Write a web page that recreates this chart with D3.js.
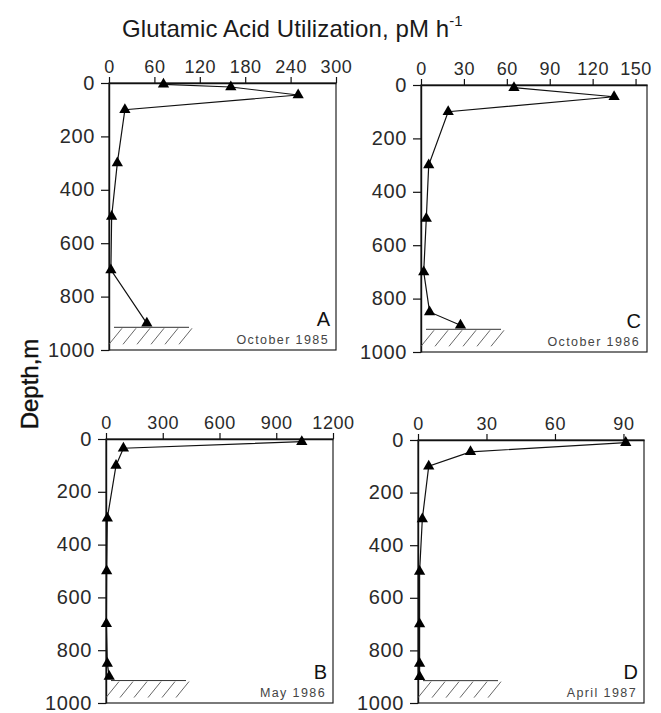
<!DOCTYPE html>
<html>
<head>
<meta charset="utf-8">
<script src="https://cdn.jsdelivr.net/npm/d3@7"></script>
<style>
  body { margin: 0; background: #fff; }
  svg { display: block; font-family: "Liberation Sans", Arial, sans-serif; }
  .tick text { fill: #2a2a2a; }
  .domain, .tick line { stroke: #111; }
</style>
</head>
<body>
<svg width="661" height="713"></svg>
<script>
// depth (m) and glutamic acid utilization (pM h-1) per station visit
const depthsA = [5, 15, 45, 100, 300, 500, 700, 900];
const valuesA = [72, 161, 250, 21, 11, 3.5, 2.5, 50];

const depthsB = [10, 35, 100, 300, 500, 700, 850, 900];
const valuesB = [1035, 92, 53, 7, 3.5, 2, 7, 17];

const depthsC = [10, 44, 100, 300, 500, 700, 850, 900];
const valuesC = [65, 135, 19, 5.4, 3.7, 1.9, 6, 27.6];

const depthsD = [10, 45, 100, 300, 500, 700, 850, 900];
const valuesD = [91, 23, 4.7, 1.9, 0.7, 0.7, 0.7, 0.7];

const xTicksA = [0, 60, 120, 180, 240, 300];
const xTicksB = [0, 300, 600, 900, 1200];
const xTicksC = [0, 30, 60, 90, 120, 150];
const xTicksD = [0, 30, 60, 90];
const depthTicks = [0, 200, 400, 600, 800, 1000];

const panelLetters = ['A', 'B', 'C', 'D'];
const panelDates = ['October 1985', 'May 1986', 'October 1986', 'April 1987'];
const xMax = [300, 1200, 158, 99];
const bottomDepth = 915;

// layout (pixel boxes of each panel)
const boxes = [
  {x0: 109, x1: 336, y0: 83, y1: 350},
  {x0: 106, x1: 333, y0: 439, y1: 703},
  {x0: 421, x1: 647, y0: 85, y1: 352},
  {x0: 418, x1: 644, y0: 440, y1: 703}
];

const panels = [
  {depths: depthsA, values: valuesA, ticks: xTicksA},
  {depths: depthsB, values: valuesB, ticks: xTicksB},
  {depths: depthsC, values: valuesC, ticks: xTicksC},
  {depths: depthsD, values: valuesD, ticks: xTicksD}
];

const svg = d3.select('svg');

// title
const title = svg.append('text')
  .attr('x', 122)
  .attr('y', 37)
  .attr('font-size', 24)
  .attr('letter-spacing', 0.1)
  .attr('fill', '#1a1a1a')
  .text('Glutamic Acid Utilization, pM h');
title.append('tspan')
  .attr('font-size', 15)
  .attr('dy', -11)
  .text('-1');

// y label
svg.append('text')
  .attr('transform', 'translate(38,384) rotate(-90)')
  .attr('text-anchor', 'middle')
  .attr('font-size', 24)
  .attr('fill', '#111')
  .attr('stroke', '#111')
  .attr('stroke-width', 0.4)
  .text('Depth,m');

panels.forEach((p, i) => {
  const b = boxes[i];
  const x = d3.scaleLinear().domain([0, xMax[i]]).range([b.x0, b.x1]);
  const y = d3.scaleLinear().domain([0, 1000]).range([b.y0, b.y1]);
  const g = svg.append('g').attr('class', 'panel');

  // frame
  g.append('rect')
    .attr('x', b.x0)
    .attr('y', b.y0)
    .attr('width', b.x1 - b.x0)
    .attr('height', b.y1 - b.y0)
    .attr('fill', 'none')
    .attr('stroke', '#222')
    .attr('stroke-width', 1.2);

  // top axis
  const xa = g.append('g')
    .attr('transform', `translate(0,${b.y0})`)
    .call(d3.axisTop(x).tickValues(p.ticks).tickFormat(d3.format('d'))
      .tickSize(6).tickSizeOuter(0).tickPadding(4));
  xa.select('.domain').attr('stroke-width', 1.4);
  xa.selectAll('.tick line').attr('stroke-width', 1.2);
  xa.selectAll('.tick text')
    .attr('font-size', 18)
    .attr('letter-spacing', 0.6)
    .attr('font-family', '"Liberation Sans", Arial, sans-serif');

  // left axis
  const ya = g.append('g')
    .attr('transform', `translate(${b.x0},0)`)
    .call(d3.axisLeft(y).tickValues(depthTicks).tickFormat(d3.format('d'))
      .tickSize(8).tickSizeOuter(0).tickPadding(6));
  ya.select('.domain').attr('stroke-width', 1.4);
  ya.selectAll('.tick line').attr('stroke-width', 1.2);
  ya.selectAll('.tick text')
    .attr('font-size', 20)
    .attr('dy', '0.3em')
    .attr('letter-spacing', 0.6)
    .attr('font-family', '"Liberation Sans", Arial, sans-serif');

  // sea floor hatch
  const yb = y(bottomDepth);
  const hx0 = b.x0 + 5, hx1 = b.x0 + 80;
  g.append('line')
    .attr('x1', hx0).attr('x2', hx1)
    .attr('y1', yb).attr('y2', yb)
    .attr('stroke', '#333').attr('stroke-width', 1);
  d3.range(6).forEach(k => {
    const hx = hx0 + 8 + k * 14;
    g.append('line')
      .attr('x1', hx).attr('y1', yb + 1)
      .attr('x2', hx - 13).attr('y2', yb + 17)
      .attr('stroke', '#555').attr('stroke-width', 0.9);
  });

  // profile
  const pts = p.depths.map((d, j) => [p.values[j], d]);
  g.append('path')
    .datum(pts)
    .attr('fill', 'none')
    .attr('stroke', '#111')
    .attr('stroke-width', 1.2)
    .attr('d', d3.line().x(d => x(d[0])).y(d => y(d[1])));

  g.selectAll('path.mk')
    .data(pts)
    .enter()
    .append('path')
    .attr('class', 'mk')
    .attr('transform', d => `translate(${x(d[0])},${y(d[1])})`)
    .attr('d', d3.symbol().type(d3.symbolTriangle).size(55))
    .attr('fill', '#000');

  // panel letter + date
  g.append('text')
    .attr('x', b.x1 - 6)
    .attr('y', b.y1 - 24)
    .attr('text-anchor', 'end')
    .attr('font-size', 20)
    .attr('fill', '#111')
    .text(panelLetters[i]);
  g.append('text')
    .attr('x', b.x1 - 7)
    .attr('y', b.y1 - 6)
    .attr('text-anchor', 'end')
    .attr('font-size', 12.5)
    .attr('letter-spacing', 1.4)
    .attr('fill', '#444')
    .text(panelDates[i]);
});
</script>
</body>
</html>
